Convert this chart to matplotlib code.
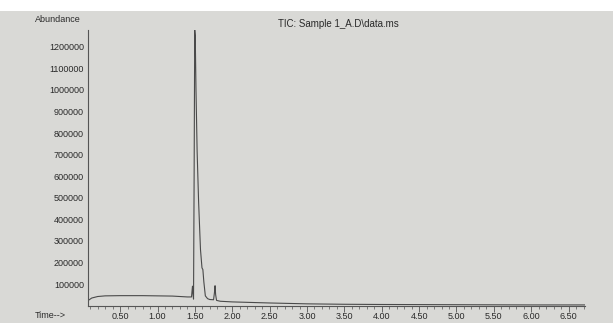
import matplotlib
matplotlib.use("Agg")
import matplotlib.pyplot as plt
from matplotlib.ticker import MultipleLocator, FixedLocator
from matplotlib.patches import Rectangle

plt.rcParams["font.family"] = ["Liberation Sans", "DejaVu Sans"]

# Data (time in min, abundance)
times = [0.07, 0.12, 0.20, 0.30, 0.50, 0.80, 1.00, 1.20, 1.40, 1.455, 1.468, 1.475,
         1.482, 1.490, 1.498, 1.505, 1.515, 1.530, 1.550, 1.575, 1.595, 1.607, 1.620,
         1.640, 1.670, 1.700, 1.750, 1.762, 1.770, 1.778, 1.790, 1.840, 2.00, 2.20,
         2.50, 3.00, 3.50, 4.00, 5.00, 6.00, 6.72]
abundance = [23000, 35000, 42000, 45000, 46000, 46000, 45000, 44000, 40000, 40000, 90000, 55000,
             30000, 600000, 1278000, 1250000, 1000000, 717000, 480000, 260000, 175000, 167000, 110000,
             45000, 32000, 28000, 27000, 60000, 92000, 50000, 24000, 20000, 17000, 15000,
             12000, 8000, 6000, 5000, 4000, 3000, 3000]

y_ticks = [100000, 200000, 300000, 400000, 500000, 600000, 700000, 800000,
           900000, 1000000, 1100000, 1200000]
x_ticks = [0.50, 1.00, 1.50, 2.00, 2.50, 3.00, 3.50, 4.00, 4.50, 5.00, 5.50, 6.00, 6.50]
title = "TIC: Sample 1_A.D\\data.ms"

paper = "#d9d9d6"
ink = "#2a2a2a"

fig = plt.figure(figsize=(6.13, 3.23), dpi=100, facecolor=paper)
fig.patches.append(Rectangle((0, 1 - 11 / 323), 1, 11 / 323, transform=fig.transFigure,
                             facecolor="white", edgecolor="none", zorder=0))

ax = fig.add_axes([88 / 613, 1 - 306 / 323, (585 - 88) / 613, (306 - 30) / 323])
ax.set_facecolor("none")
ax.plot(times, abundance, color="#4a4a4a", lw=0.8)

ax.set_xlim(0.07, 6.72)
ax.set_ylim(-2000, 1278000)

for s in ["top", "right"]:
    ax.spines[s].set_visible(False)
for s in ["left", "bottom"]:
    ax.spines[s].set_color("#555555")
    ax.spines[s].set_linewidth(0.8)

ax.yaxis.set_major_locator(FixedLocator(y_ticks))
ax.set_yticklabels([str(v) for v in y_ticks])
ax.tick_params(axis="y", length=0, pad=3, labelsize=6.5, labelcolor=ink)

ax.xaxis.set_major_locator(FixedLocator(x_ticks))
ax.set_xticklabels([f"{v:.2f}" for v in x_ticks])
ax.xaxis.set_minor_locator(MultipleLocator(0.1))
ax.tick_params(axis="x", which="major", direction="out", length=4, width=0.6,
               color="#555555", pad=0.5, labelsize=6.5, labelcolor=ink)
ax.tick_params(axis="x", which="minor", direction="out", length=2.5, width=0.5, color="#555555")

fig.text(35 / 613, 1 - 20 / 323, "Abundance", fontsize=6.5, color=ink, ha="left", va="center")
fig.text(338 / 613, 1 - 24 / 323, title, fontsize=7, color=ink, ha="center", va="center")
fig.text(35 / 613, 1 - 316 / 323, "Time-->", fontsize=6.5, color=ink, ha="left", va="center")

fig.savefig("out.png", dpi=100, facecolor=fig.get_facecolor())
